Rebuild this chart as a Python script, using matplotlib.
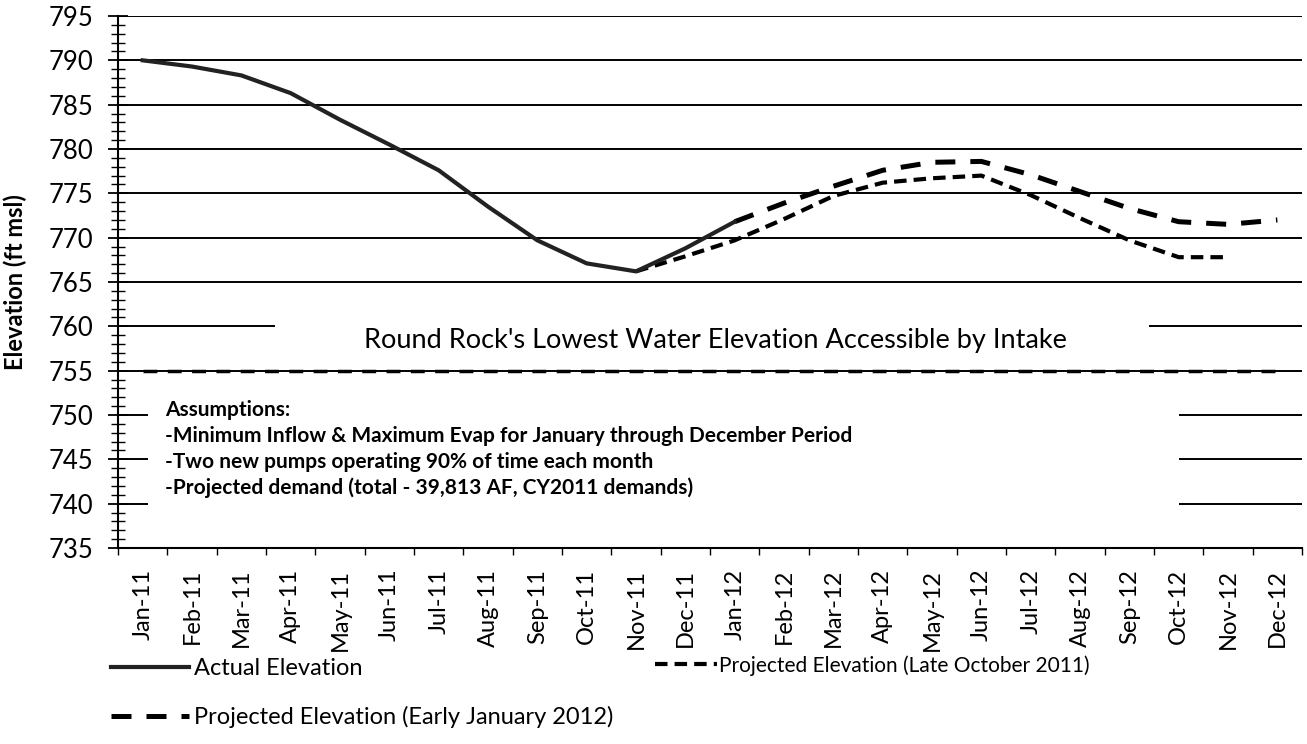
import matplotlib
matplotlib.use('Agg')
import matplotlib.pyplot as plt
from matplotlib.patches import Rectangle
import numpy as np

plt.rcParams['font.family'] = ['Lato', 'DejaVu Sans']

# Categories (months)
months = ['Jan-11', 'Feb-11', 'Mar-11', 'Apr-11', 'May-11', 'Jun-11',
          'Jul-11', 'Aug-11', 'Sep-11', 'Oct-11', 'Nov-11', 'Dec-11',
          'Jan-12', 'Feb-12', 'Mar-12', 'Apr-12', 'May-12', 'Jun-12',
          'Jul-12', 'Aug-12', 'Sep-12', 'Oct-12', 'Nov-12', 'Dec-12']

nan = np.nan
# Elevation series (ft msl)
actual = [790.0, 789.3, 788.3, 786.3, 783.3, 780.5, 777.6, 773.5, 769.7,
          767.1, 766.2, 768.8, 771.8] + [nan] * 11
late_oct = [nan] * 10 + [766.2, 767.9, 769.7, 772.1, 774.7, 776.2, 776.7,
                         777.0, 774.8, 772.2, 769.7, 767.8, 767.8, nan]
early_jan = [nan] * 12 + [771.8, 773.9, 775.8, 777.6, 778.5, 778.6,
                          777.1, 775.2, 773.3, 771.8, 771.5, 772.0]
intake_level = [755] * 24

label_actual = 'Actual Elevation'
label_oct = 'Projected Elevation (Late October 2011)'
label_jan = 'Projected Elevation (Early January 2012)'
intake_text = "Round Rock's Lowest Water Elevation Accessible by Intake"
assumptions = ['Assumptions:',
               '-Minimum Inflow & Maximum Evap for January through December Period',
               '-Two new pumps operating 90% of time each month',
               '-Projected demand (total - 39,813 AF, CY2011 demands)']

x = np.arange(len(months))

fig = plt.figure(figsize=(13.07, 7.44), dpi=100)
ax = fig.add_axes([0.0903, 0.2634, 0.9059, 0.7151])

# gridlines
ax.set_axisbelow(True)
ax.grid(axis='y', which='major', color='black', linewidth=1.4)

# white boxes hiding parts of the grid (text boxes in the original)
ax.add_patch(Rectangle((2.69, 757.5), 17.7, 3.3, facecolor='white',
                       edgecolor='none', zorder=1))
ax.add_patch(Rectangle((0.1, 736.5), 20.9, 15.5, facecolor='white',
                       edgecolor='none', zorder=1))

# lines
ax.plot(x, intake_level, color='black', linewidth=2.5, linestyle=(0, (4, 3)),
        zorder=2)
l_jan, = ax.plot(x, early_jan, color='black', linewidth=3.6,
                 linestyle=(0, (4, 3)), zorder=3, label=label_jan)
l_oct, = ax.plot(x, late_oct, color='black', linewidth=3.0,
                 linestyle=(0, (3, 1.7)), zorder=3, label=label_oct)
l_act, = ax.plot(x, actual, color='#222222', linewidth=3.0, zorder=4,
                 label=label_actual)

ax.text(11.6, 758.4, intake_text, ha='center', va='center', fontsize=19.5,
        zorder=5)
for i, line in enumerate(assumptions):
    ax.text(0.45, 750.6 - i * 2.93, line, ha='left', va='center',
            fontsize=15, fontweight='bold', zorder=5)

# axes
ax.set_xlim(-0.5, 23.5)
ax.set_ylim(735, 795)
ax.set_yticks(np.arange(735, 796, 5))
ax.set_yticks(np.arange(735, 796, 1), minor=True)
ax.tick_params(axis='y', which='major', direction='inout', length=15,
               width=1.3, labelsize=18.5, pad=10)
ax.tick_params(axis='y', which='minor', direction='inout', length=10,
               width=1.0)

ax.set_xticks(np.arange(-0.5, 24, 1))
ax.set_xticklabels([])
ax.set_xticks(x, minor=True)
ax.set_xticklabels(months, minor=True, rotation=90)
ax.tick_params(axis='x', which='major', direction='out', length=5, width=1)
ax.tick_params(axis='x', which='minor', length=0, labelsize=17, pad=15)

for s in ['top', 'right']:
    ax.spines[s].set_visible(False)
for s in ['left', 'bottom']:
    ax.spines[s].set_linewidth(1.5)

ax.set_ylabel('Elevation (ft msl)', fontsize=17, fontweight='bold')
ax.yaxis.set_label_coords(-0.077, 0.5)

# legends below the chart
fig.legend(handles=[l_act, l_jan], loc='upper left',
           bbox_to_anchor=(0.085, 1 - 658 / 744), frameon=False,
           fontsize=17, handlelength=3.3, handletextpad=0.2,
           labelspacing=1.15, borderpad=0, borderaxespad=0)
fig.legend(handles=[l_oct], loc='upper left',
           bbox_to_anchor=(0.501, 1 - 655 / 744), frameon=False,
           fontsize=15, handlelength=3.0, handletextpad=0.1,
           borderpad=0, borderaxespad=0)

fig.savefig('out.png', dpi=100)
